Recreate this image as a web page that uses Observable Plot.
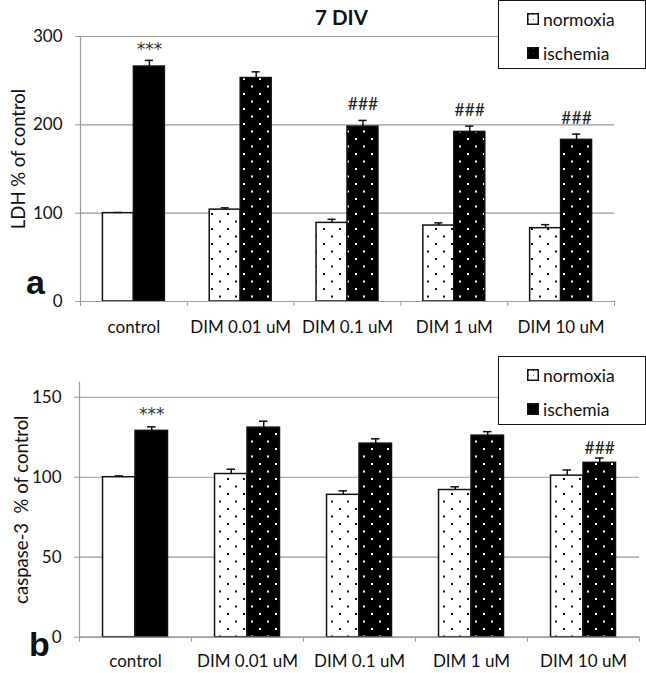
<!DOCTYPE html>
<html>
<head>
<meta charset="utf-8">
<script src="https://cdn.jsdelivr.net/npm/d3@7"></script>
<script src="https://cdn.jsdelivr.net/npm/@observablehq/plot@0.6"></script>
<style>
  body { margin: 0; background: #fff; }
  #wrap { position: relative; width: 646px; height: 673px; font-family: Lato, "Open Sans", sans-serif; }
  #wrap svg.plot { display: block; }
  .legend { position: absolute; background: #fff; border: 1.5px solid #111; box-sizing: border-box; font-family: Lato, sans-serif; font-size: 17.5px; color: #111; }
  .legend .item { position: absolute; left: 28px; display: flex; align-items: center; height: 20px; }
  .legend .item svg { margin-right: 4px; }
</style>
</head>
<body>
<svg width="0" height="0" style="position:absolute">
  <defs>
    <pattern id="dotsBlack" patternUnits="userSpaceOnUse" width="16" height="15">
      <rect width="16" height="15" fill="white"/>
      <rect x="3" y="3" width="2" height="2" fill="#111"/>
      <rect x="11" y="10.5" width="2" height="2" fill="#111"/>
    </pattern>
    <pattern id="dotsWhite" patternUnits="userSpaceOnUse" width="16" height="15">
      <rect width="16" height="15" fill="black"/>
      <rect x="3" y="3" width="2" height="2" fill="white"/>
      <rect x="11" y="10.5" width="2" height="2" fill="white"/>
    </pattern>
    <pattern id="swBlack" patternUnits="userSpaceOnUse" width="5" height="5">
      <rect width="5" height="5" fill="white"/>
      <rect x="1" y="1" width="1" height="1" fill="#666"/>
    </pattern>
    <pattern id="swWhite" patternUnits="userSpaceOnUse" width="5" height="5">
      <rect width="5" height="5" fill="black"/>
      <rect x="1" y="1" width="1" height="1" fill="#444"/>
    </pattern>
  </defs>
</svg>
<div id="wrap"></div>
<script>
// ---- data ----
const categories = ["control", "DIM 0.01 uM", "DIM 0.1 uM", "DIM 1 uM", "DIM 10 uM"];
const conditions = ["normoxia", "ischemia"];

const ldhNormoxia    = [100, 104, 89, 86, 83];
const ldhNormoxiaErr = [0.8, 2, 4, 3, 4];
const ldhIschemia    = [266, 253, 198, 192, 183];
const ldhIschemiaErr = [7, 7, 7, 6.5, 6.5];
const ldhSignif      = ["***", "", "###", "###", "###"];
const ldhTicks       = [0, 100, 200, 300];

const casNormoxia    = [100, 102, 89, 92, 101];
const casNormoxiaErr = [0.8, 3, 2.5, 2, 3.5];
const casIschemia    = [129, 131, 121, 126, 109];
const casIschemiaErr = [2.5, 4, 3, 2.5, 3];
const casSignif      = ["***", "", "", "", "###"];
const casTicks       = [0, 50, 100, 150];

const GRAY = "#9a9a9a";

function rows(norm, normErr, isch, ischErr, signif) {
  const out = [];
  categories.forEach((cat, i) => {
    out.push({i, cat, cond: "normoxia", v: norm[i], e: normErr[i], s: "",
      fill: i === 0 ? "white" : "url(#dotsBlack)", lo: i + 0.21, hi: i + 0.5});
    out.push({i, cat, cond: "ischemia", v: isch[i], e: ischErr[i], s: signif[i],
      fill: i === 0 ? "black" : "url(#dotsWhite)", lo: i + 0.5, hi: i + 0.79});
  });
  out.forEach(d => { d.c = (d.lo + d.hi) / 2; d.top = d.v + d.e; });
  return out;
}

function panel(opts) {
  const data = rows(...opts.series);
  const n = categories.length;
  const boundaries = d3.range(n + 1);
  const centers = categories.map((_, i) => i + 0.5);
  return Plot.plot({
    width: 646,
    height: opts.height,
    marginLeft: opts.ml, marginRight: opts.mr, marginTop: opts.mt, marginBottom: opts.mb,
    style: {fontFamily: "Lato, sans-serif", fontSize: "17px", color: "#111", background: "transparent", overflow: "visible"},
    x: {domain: [0, n]},
    y: {domain: opts.ydomain},
    marks: [
      Plot.gridY(opts.ticks, {stroke: GRAY, strokeOpacity: 1, strokeWidth: 1.2}),
      Plot.ruleX([0], {stroke: GRAY, strokeWidth: 1.2}),
      Plot.axisY({ticks: opts.ticks, tickSize: 5, tickPadding: 13, stroke: GRAY, fontSize: 17, label: null, fill: "#111"}),
      Plot.axisX({ticks: boundaries, tickSize: 5, tickFormat: () => "", stroke: GRAY, label: null}),
      Plot.axisX({ticks: centers, tickSize: 0, tickPadding: opts.xpad, fontSize: 17,
        tickFormat: d => categories[Math.floor(d)], label: null, fill: "#111"}),
      Plot.rectY(data, {x1: "lo", x2: "hi", y1: 0, y2: "v", fill: "fill", stroke: "#111", strokeWidth: 1.5}),
      Plot.ruleY([0], {stroke: GRAY, strokeWidth: 1.2}),
      Plot.ruleX(data, {x: "c", y1: "v", y2: "top", stroke: "#111", strokeWidth: 1.5}),
      Plot.ruleY(data, {y: "top", x1: d => d.c - 0.038, x2: d => d.c + 0.038, stroke: "#111", strokeWidth: 1.5}),
      Plot.text(data.filter(d => d.s === "***"), {x: "c", y: "top", text: "s", dy: opts.starDy, fontSize: 17, fontFamily: "DejaVu Sans, sans-serif", fill: "#333", lineAnchor: "middle"}),
      Plot.text(data.filter(d => d.s === "###"), {x: "c", y: "top", text: "s", dy: opts.hashDy, fontSize: 17.5, fill: "#222", lineAnchor: "middle"}),
      Plot.text([opts.ylabel], {frameAnchor: "left", dx: opts.ylabelX - opts.ml, dy: opts.ylabelDy, rotate: -90, fontSize: 18.5, fill: "#111", lineAnchor: "middle", textAnchor: "middle"}),
      Plot.text([opts.letter], {frameAnchor: "bottom-left", dx: opts.letterDx, dy: opts.letterDy, fontSize: 34, fontWeight: "bold", fontFamily: "Liberation Sans, Arial, sans-serif", fill: "#111", lineAnchor: "bottom", textAnchor: "middle"}),
      ...(opts.title ? [Plot.text([opts.title], {frameAnchor: "top", dy: -18, dx: -6, fontSize: 20.5, fontWeight: "bold", fill: "#111", lineAnchor: "middle"})] : [])
    ]
  });
}

const wrap = document.getElementById("wrap");

const a = panel({
  series: [ldhNormoxia, ldhNormoxiaErr, ldhIschemia, ldhIschemiaErr, ldhSignif],
  height: 340, ml: 80, mr: 32, mt: 36, mb: 39,
  ydomain: [0, 300], ticks: ldhTicks, xpad: 19,
  starDy: -11, hashDy: -16,
  ylabel: "LDH % of control", ylabelX: 19, ylabelDy: -10,
  letter: "a", letterDx: -45, letterDy: -8,
  title: "7 DIV"
});
a.classList.add("plot");
wrap.appendChild(a);

const b = panel({
  series: [casNormoxia, casNormoxiaErr, casIschemia, casIschemiaErr, casSignif],
  height: 333, ml: 79, mr: 7, mt: 41.7, mb: 36.3,
  ydomain: [0, 159.4], ticks: casTicks, xpad: 18,
  starDy: -12, hashDy: -9.5,
  ylabel: "caspase-3  % of control", ylabelX: 22, ylabelDy: 0,
  letter: "b", letterDx: -40, letterDy: 18.3,
  title: null
});
b.classList.add("plot");
wrap.appendChild(b);

function legend(top) {
  const el = document.createElement("div");
  el.className = "legend";
  Object.assign(el.style, {left: "498px", top: top + "px", width: "148px", height: "69px"});
  el.innerHTML = `
    <div class="item" style="top:8px"><svg width="12" height="12"><rect x="0.75" y="0.75" width="10.5" height="10.5" fill="url(#swBlack)" stroke="#111" stroke-width="1.5"/></svg>normoxia</div>
    <div class="item" style="top:42px"><svg width="12" height="12"><rect x="0.75" y="0.75" width="10.5" height="10.5" fill="url(#swWhite)" stroke="#111" stroke-width="1.5"/></svg>ischemia</div>`;
  wrap.appendChild(el);
}
legend(0);
legend(356);
</script>
</body>
</html>
